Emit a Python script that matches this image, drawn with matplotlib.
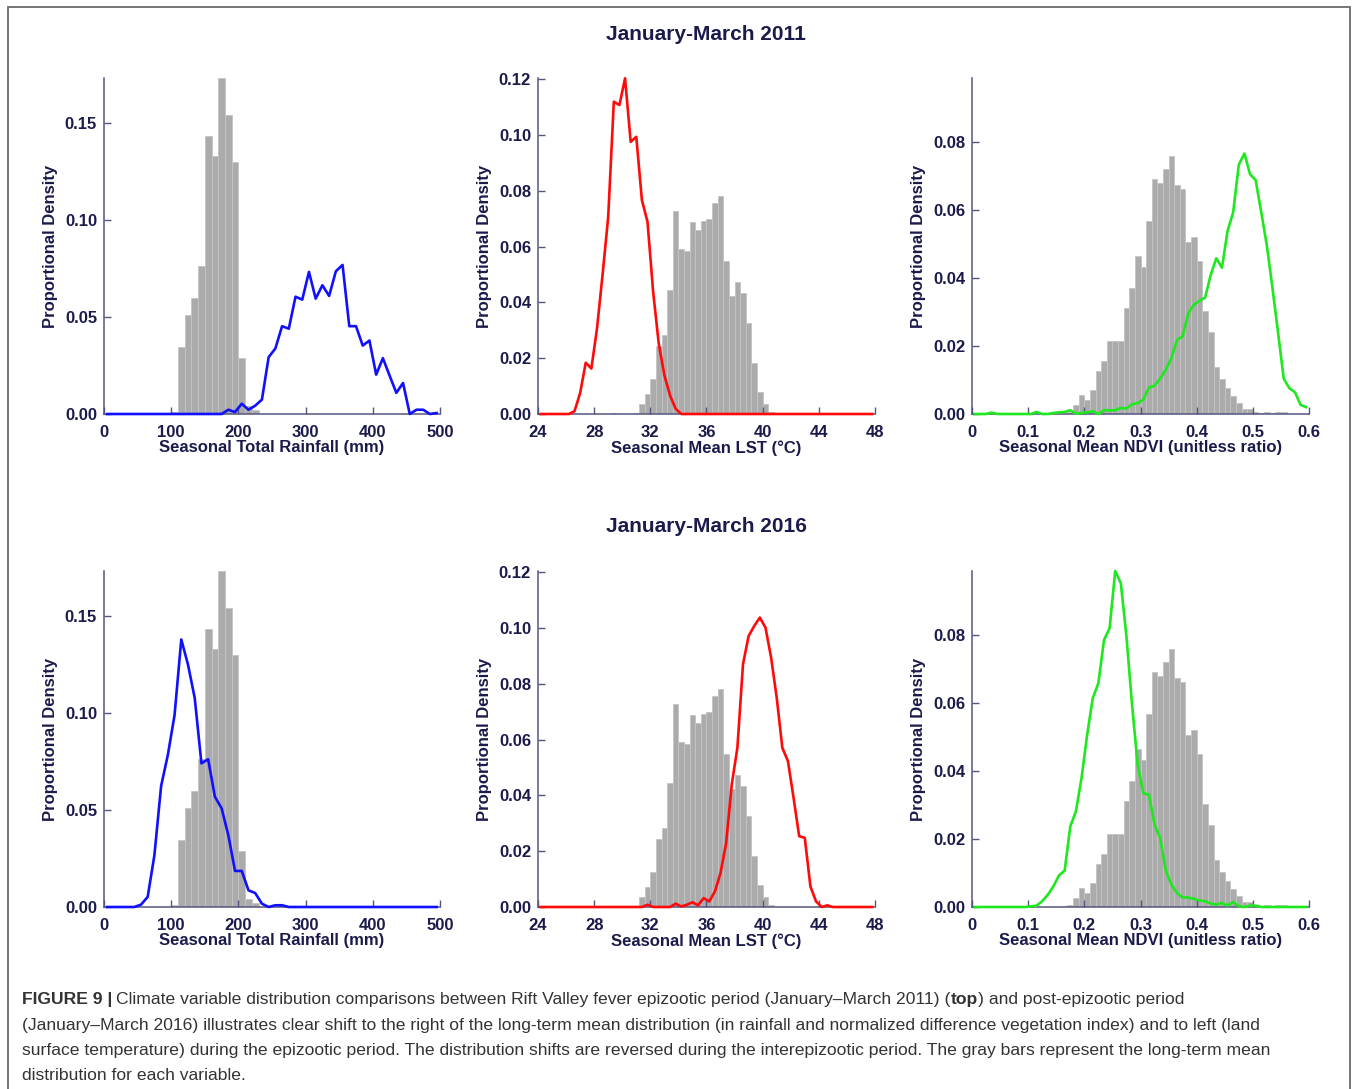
import numpy as np
import matplotlib
matplotlib.use("Agg")
import matplotlib.pyplot as plt
from matplotlib.patches import Rectangle

# ---- data ----
# long-term mean histograms (gray bars): first left edge, bin width, heights
rain_bin_start, rain_bin_w = 100, 10
rain_longterm = [0.001, 0.0347, 0.051, 0.060, 0.0764, 0.1436, 0.1333, 0.1733,
                 0.154, 0.130, 0.029, 0.004, 0.002]

lst_bin_start, lst_bin_w = 29.2, 0.4
lst_longterm = [0.0004, 0, 0, 0, 0.0005, 0.0035, 0.007, 0.0127, 0.0243, 0.0285,
                0.0444, 0.0729, 0.0591, 0.0585, 0.0687, 0.0659, 0.0693, 0.0699,
                0.0755, 0.0781, 0.0548, 0.0424, 0.0474, 0.0434, 0.0328, 0.0184,
                0.0079, 0.0037, 0.0007]

ndvi_bin_start, ndvi_bin_w = 0.16, 0.01
ndvi_longterm = [0.0003, 0.0005, 0.0027, 0.0057, 0.004, 0.0071, 0.0125, 0.0156,
                 0.0215, 0.0215, 0.0215, 0.0311, 0.037, 0.0466, 0.0431, 0.0568,
                 0.0692, 0.0678, 0.0719, 0.0758, 0.0673, 0.0661, 0.0507, 0.0521,
                 0.0451, 0.0304, 0.0241, 0.0137, 0.0103, 0.0076, 0.0054, 0.0032,
                 0.0016, 0.0016, 0.0005, 0.0002, 0.0006, 0.0004, 0.0006, 0.0005]

# seasonal curves, sampled at bin centres (first centre, step)
rain_x0, rain_dx = 5, 10
rain_2011 = [0] * 18 + [0.0022, 0.001, 0.0053, 0.0022, 0.0043, 0.0074, 0.0293,
             0.0338, 0.0453, 0.044, 0.0605, 0.059, 0.0733, 0.0595, 0.0664,
             0.0609, 0.0736, 0.0769, 0.0453, 0.0453, 0.0353, 0.0379, 0.0203,
             0.0288, 0.0198, 0.0109, 0.016, 0, 0.0022, 0.0022, 0, 0.0005]
rain_2016 = [0] * 5 + [0.0012, 0.0052, 0.0267, 0.0624, 0.0784, 0.099, 0.138,
             0.125, 0.1078, 0.0741, 0.0762, 0.0569, 0.0509, 0.037, 0.0186,
             0.0186, 0.0086, 0.0072, 0.0017, 0, 0.0009, 0.0009, 0] + [0] * 22

lst_x0, lst_dx = 24.2, 0.4
lst_2011 = [0] * 6 + [0.001, 0.0075, 0.0184, 0.0163, 0.0306, 0.050, 0.0707,
            0.112, 0.1108, 0.1204, 0.0976, 0.0994, 0.0767, 0.0689, 0.0438,
            0.0252, 0.0139, 0.0067, 0.0019, 0] + [0] * 34
lst_2016 = [0] * 19 + [0.0008, 0, 0, 0, 0, 0.0012, 0.0002, 0.0008, 0.0017,
            0.0006, 0.0032, 0.002, 0.0056, 0.0122, 0.023, 0.044, 0.0571,
            0.0871, 0.0972, 0.1008, 0.1038, 0.1002, 0.0895, 0.0751, 0.0571,
            0.0523, 0.0392, 0.0254, 0.0248, 0.0074, 0.002, 0, 0.0006, 0] + [0] * 7

ndvi_x0, ndvi_dx = 0.005, 0.01
ndvi_2011 = [0, 0, 0, 0.0004, 0, 0, 0, 0, 0, 0, 0, 0.0006, 0, 0, 0.0003, 0.0005,
             0.0006, 0.0011, 0.0001, 0.0003, 0.0005, 0.0008, 0, 0.0011, 0.0011,
             0.0011, 0.0018, 0.0016, 0.0029, 0.0032, 0.0042, 0.0078, 0.0083,
             0.0104, 0.013, 0.0164, 0.0218, 0.0228, 0.0296, 0.0321, 0.0333,
             0.0342, 0.0409, 0.0458, 0.043, 0.0538, 0.0593, 0.0733, 0.0766,
             0.0705, 0.0688, 0.0593, 0.0495, 0.037, 0.0238, 0.0104, 0.0076,
             0.0064, 0.0027, 0.002]
ndvi_2016 = [0] * 10 + [0.0002, 0.0004, 0.0017, 0.0036, 0.0061, 0.0093, 0.0107,
             0.0237, 0.0281, 0.0379, 0.0506, 0.0614, 0.0658, 0.0785, 0.082,
             0.0988, 0.0952, 0.0795, 0.0594, 0.0418, 0.0335, 0.033, 0.0242,
             0.0203, 0.0107, 0.0066, 0.0041, 0.0028, 0.0028, 0.0024, 0.0019,
             0.0017, 0.001, 0.0007, 0.0012, 0.0004, 0.0015, 0.0002, 0, 0.0004,
             0.0004, 0] + [0] * 8

rain_xticks = [0, 100, 200, 300, 400, 500]
lst_xticks = [24, 28, 32, 36, 40, 44, 48]
ndvi_xticks = [0, 0.1, 0.2, 0.3, 0.4, 0.5, 0.6]
ndvi_xlabels = ["0", "0.1", "0.2", "0.3", "0.4", "0.5", "0.6"]
rain_yticks = [0, 0.05, 0.10, 0.15]
lst_yticks = [0, 0.02, 0.04, 0.06, 0.08, 0.10, 0.12]
ndvi_yticks = [0, 0.02, 0.04, 0.06, 0.08]

titles = ["January-March 2011", "January-March 2016"]
xlabels = ["Seasonal Total Rainfall (mm)", "Seasonal Mean LST (\u00b0C)",
           "Seasonal Mean NDVI (unitless ratio)"]

# ---- style ----
W, H = 1358, 1089
TXT = "#1b1b4b"
AXC = "#55557f"
BAR = "#ababab"
plt.rcParams["font.family"] = ["Liberation Sans", "DejaVu Sans"]
plt.rcParams["font.weight"] = "bold"
plt.rcParams["axes.labelweight"] = "bold"

fig = plt.figure(figsize=(W / 100, H / 100), dpi=100)


def px_ax(x0, x1, ybot, ytop):
    return fig.add_axes([x0 / W, 1 - ybot / H, (x1 - x0) / W, (ybot - ytop) / H])


def panel(ax, bins, start, bw, curve, cx0, cdx, color, xlim, xticks, xtl,
          ytop, yticks, xlabel):
    lefts = start + bw * np.arange(len(bins))
    ax.bar(lefts, bins, width=bw, align="edge", color=BAR, edgecolor="#c4c4c4",
           linewidth=0.6, zorder=1)
    xs = cx0 + cdx * np.arange(len(curve))
    ax.plot(xs, curve, color=color, lw=1.9, zorder=3, clip_on=False)
    ax.set_xlim(*xlim)
    ax.set_ylim(0, ytop)
    ax.set_xticks(xticks)
    ax.set_xticklabels(xtl)
    ax.set_yticks(yticks)
    ax.set_yticklabels(["%.2f" % v for v in yticks])
    for s in ["top", "right"]:
        ax.spines[s].set_visible(False)
    for s in ["left", "bottom"]:
        ax.spines[s].set_color(AXC)
        ax.spines[s].set_linewidth(1.1)
    ax.tick_params(direction="in", length=5, width=1, color=AXC,
                   labelcolor=TXT, labelsize=12, pad=5)
    ax.tick_params(axis="x", pad=8)
    ax.set_xlabel(xlabel, fontsize=12, fontweight="bold", color=TXT, labelpad=0)
    ax.set_ylabel("Proportional Density", fontsize=12, fontweight="bold",
                  color=TXT, labelpad=5)


cols = [(104, 440), (538, 875), (972, 1309)]
rows = [(414, 78), (907, 571)]

for r, (yb, yt) in enumerate(rows):
    rain_c = rain_2011 if r == 0 else rain_2016
    lst_c = lst_2011 if r == 0 else lst_2016
    ndvi_c = ndvi_2011 if r == 0 else ndvi_2016
    a1 = px_ax(cols[0][0], cols[0][1], yb, yt)
    panel(a1, rain_longterm, rain_bin_start, rain_bin_w, rain_c, rain_x0, rain_dx,
          "#1010ff", (0, 500), rain_xticks, [str(v) for v in rain_xticks],
          0.1733, rain_yticks, xlabels[0])
    a2 = px_ax(cols[1][0], cols[1][1], yb, yt)
    panel(a2, lst_longterm, lst_bin_start, lst_bin_w, lst_c, lst_x0, lst_dx,
          "#ff0a0a", (24, 48), lst_xticks, [str(v) for v in lst_xticks],
          0.1205, lst_yticks, xlabels[1])
    a3 = px_ax(cols[2][0], cols[2][1], yb, yt)
    panel(a3, ndvi_longterm, ndvi_bin_start, ndvi_bin_w, ndvi_c, ndvi_x0, ndvi_dx,
          "#1ee81e", (0, 0.6), ndvi_xticks, ndvi_xlabels,
          0.0988, ndvi_yticks, xlabels[2])

fig.text(706 / W, 1 - 34 / H, titles[0], ha="center", va="center", fontsize=15,
         fontweight="bold", color=TXT)
fig.text(706 / W, 1 - 527 / H, titles[1], ha="center", va="center", fontsize=15,
         fontweight="bold", color=TXT)

# outer frame
fig.patches.append(Rectangle((7.5 / W, -0.02), (1350 - 7.5) / W, 1.02 - 6.5 / H,
                             transform=fig.transFigure, fill=False,
                             edgecolor="#6a6a6a", linewidth=1.3))

# caption, with bold pieces
CAP = ["Liberation Sans", "DejaVu Sans"]
CAPC = "#333333"
cap_size = 12.6
renderer = fig.canvas.get_renderer()


def seg(x_px, y_px, s, weight):
    t = fig.text(x_px / W, 1 - y_px / H, s, family=CAP, fontsize=cap_size,
                 fontweight=weight, color=CAPC, va="baseline", ha="left")
    return t.get_window_extent(renderer).x1


x = seg(22, 1004, "FIGURE 9 |", "bold")
x = seg(x + 4, 1004, "Climate variable distribution comparisons between Rift Valley "
        "fever epizootic period (January\u2013March 2011) (", "normal")
x = seg(x, 1004, "top", "bold")
seg(x, 1004, ") and post-epizootic period", "normal")
seg(22, 1030, "(January\u2013March 2016) illustrates clear shift to the right of the "
    "long-term mean distribution (in rainfall and normalized difference "
    "vegetation index) and to left (land", "normal")
seg(22, 1055, "surface temperature) during the epizootic period. The distribution "
    "shifts are reversed during the interepizootic period. The gray bars "
    "represent the long-term mean", "normal")
seg(22, 1080, "distribution for each variable.", "normal")

fig.savefig("out.png", dpi=100)
